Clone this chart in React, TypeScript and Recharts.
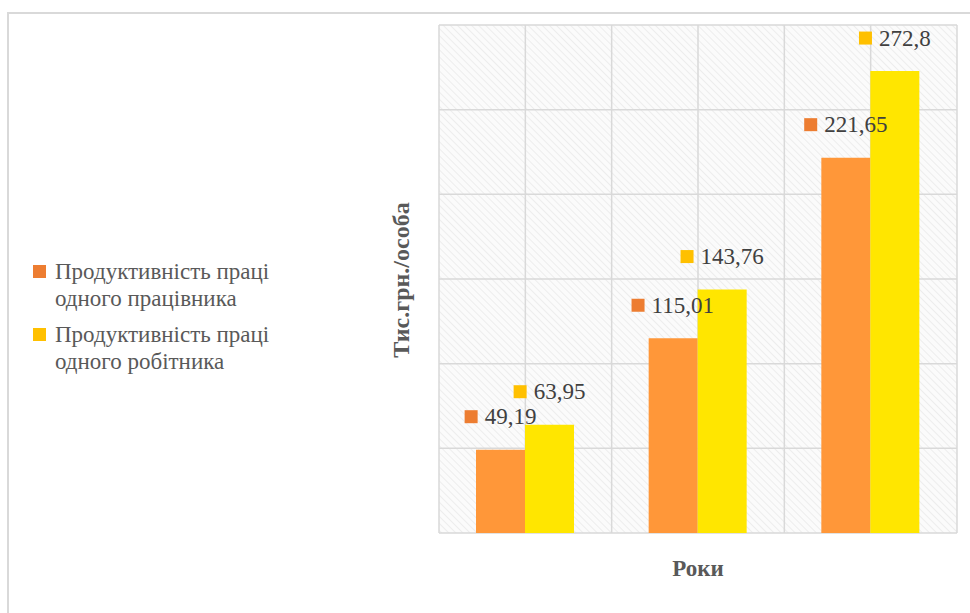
import React from "react";
import { BarChart, Bar, XAxis, YAxis, CartesianGrid, Legend, LabelList } from "recharts";

const categories = ["Рік 1", "Рік 2", "Рік 3"];
const workerProductivity = [49.19, 115.01, 221.65];
const laborerProductivity = [63.95, 143.76, 272.8];
const yTicks = [0, 50, 100, 150, 200, 250, 300];
const seriesNames = [
  ["Продуктивність праці", "одного працівника"],
  ["Продуктивність праці", "одного робітника"],
];

const data = categories.map((c, i) => ({
  name: c,
  worker: workerProductivity[i],
  laborer: laborerProductivity[i],
}));

const FONT = "'Liberation Serif', 'Times New Roman', serif";
const MARKER_COLORS = ["#ED7D31", "#FFC000"];
const BAR_COLORS = ["#FF9739", "#FFE600"];
const LEGEND_W = 300;

const fmt = (v: number) => String(v).replace(".", ",");

const makeLabel = (markerColor: string) => (props: any) => {
  const { x, y, width, value } = props;
  const fs = 23;
  const s = fmt(Number(value));
  let tw = 0;
  for (const ch of s) tw += ch === "," ? fs * 0.25 : fs * 0.5;
  const total = 13 + 7 + tw;
  const cx = Number(x) + Number(width) / 2;
  const start = cx - total / 2;
  const cy = Number(y) - 33;
  return (
    <g>
      <rect x={start} y={cy - 6.5} width={13} height={13} fill={markerColor} />
      <text
        x={start + 20}
        y={cy}
        dominantBaseline="central"
        fontFamily={FONT}
        fontSize={fs}
        fill="#404040"
      >
        {s}
      </text>
    </g>
  );
};

const LegendContent = () => (
  <div style={{ fontFamily: FONT, fontSize: 23, color: "#595959", lineHeight: "27px" }}>
    {seriesNames.map((lines, i) => (
      <div key={i} style={{ display: "flex", alignItems: "flex-start", marginBottom: 9 }}>
        <div
          style={{
            width: 13,
            height: 13,
            background: MARKER_COLORS[i],
            marginTop: 7,
            marginRight: 9,
            flex: "none",
          }}
        />
        <div>
          {lines.map((l, j) => (
            <div key={j} style={{ whiteSpace: "nowrap" }}>{l}</div>
          ))}
        </div>
      </div>
    ))}
  </div>
);

const vGen = ({ offset }: any) => {
  const pts: number[] = [];
  const n = categories.length * 2;
  for (let i = 0; i <= n; i++) pts.push(offset.left + (offset.width * i) / n);
  return pts;
};

export default function App() {
  return (
    <div style={{ position: "absolute", left: 0, top: 0, width: 970, height: 613 }}>
      <div
        style={{
          position: "absolute",
          left: 7,
          top: 12,
          width: 980,
          height: 620,
          borderTop: "2px solid #d9d9d9",
          borderLeft: "2px solid #d9d9d9",
        }}
      />
      <div style={{ position: "absolute", left: 0, top: 0 }}>
        <BarChart
          width={970}
          height={613}
          data={data}
          margin={{ top: 25, right: 13, bottom: 80, left: 439 - LEGEND_W }}
          barCategoryGap={37}
          barGap={0}
        >
          <defs>
            <pattern
              id="hatch"
              patternUnits="userSpaceOnUse"
              width={5}
              height={5}
              patternTransform="rotate(-45)"
            >
              <rect width={5} height={5} fill="#fbfbfb" />
              <line x1={0} y1={0} x2={0} y2={5} stroke="#ededed" strokeWidth={2} />
            </pattern>
          </defs>
          <CartesianGrid
            stroke="#d9d9d9"
            strokeWidth={1.5}
            fill="url(#hatch)"
            fillOpacity={1}
            verticalCoordinatesGenerator={vGen}
          />
          <XAxis dataKey="name" hide />
          <YAxis hide domain={[0, 300]} ticks={yTicks} />
          <Legend
            layout="horizontal"
            verticalAlign="middle"
            align="left"
            content={LegendContent}
            wrapperStyle={{ left: 33, top: 258, width: LEGEND_W }}
          />
          <Bar dataKey="worker" fill={BAR_COLORS[0]} isAnimationActive={false}>
            <LabelList dataKey="worker" content={makeLabel(MARKER_COLORS[0])} />
          </Bar>
          <Bar dataKey="laborer" fill={BAR_COLORS[1]} isAnimationActive={false}>
            <LabelList dataKey="laborer" content={makeLabel(MARKER_COLORS[1])} />
          </Bar>
          <text
            x={698}
            y={568}
            textAnchor="middle"
            dominantBaseline="central"
            fontFamily={FONT}
            fontSize={23}
            fontWeight="bold"
            fill="#595959"
          >
            Роки
          </text>
          <text
            x={0}
            y={0}
            transform="translate(401, 280) rotate(-90)"
            textAnchor="middle"
            dominantBaseline="central"
            fontFamily={FONT}
            fontSize={24}
            fontWeight="bold"
            fill="#595959"
          >
            Тис.грн./особа
          </text>
        </BarChart>
      </div>
    </div>
  );
}
